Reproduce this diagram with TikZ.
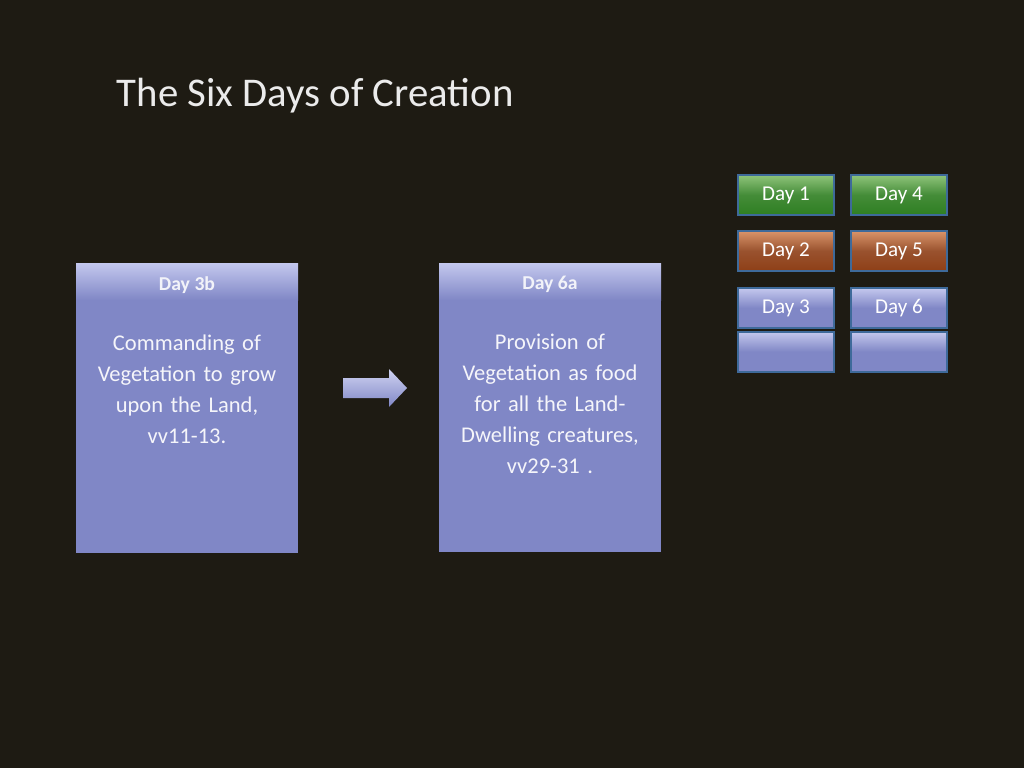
\documentclass[tikz,border=0pt]{standalone}
\usepackage{fontspec}
\setmainfont{Carlito}
\usetikzlibrary{positioning}
\definecolor{bgdark}{HTML}{1E1B13}
\definecolor{panel}{HTML}{8087C6}
\definecolor{panellight}{HTML}{C4C8EE}
\definecolor{dgreen}{HTML}{2F7F22}
\definecolor{lgreen}{HTML}{8FC47A}
\definecolor{dbrown}{HTML}{8E3F17}
\definecolor{lbrown}{HTML}{D9946A}
\definecolor{edgeblue}{HTML}{3E6A9A}
\tikzset{
  daybtn/.style={draw=edgeblue,line width=1.2pt,minimum width=2.4cm,minimum height=1cm,
    text=white,font=\fontsize{15}{18}\selectfont,inner sep=0pt},
  greenbtn/.style={daybtn,top color=lgreen,bottom color=dgreen,middle color=dgreen!90},
  brownbtn/.style={daybtn,top color=lbrown,bottom color=dbrown,middle color=dbrown!90},
  bluebtn/.style={daybtn,top color=panellight,bottom color=panel,middle color=panel},
  bodytext/.style={text=white!92!panel,font=\fontsize{16}{22}\selectfont,align=center,text width=5.2cm}
}
\begin{document}
\begin{tikzpicture}[x=0.025cm,y=-0.025cm]
  % Background
  \fill[bgdark] (0,0) rectangle (1024,768);
  \useasboundingbox (0,0) rectangle (1024,768);

  % Title
  \node[anchor=west,text=white!92!black,font=\fontsize{29}{34}\selectfont] (title) at (112,96) {The Six Days of Creation};

  % Panels
  \fill[panel] (76,263) rectangle (298,553);
  \shade[top color=panellight,bottom color=panel] (76,263) rectangle (298,300);
  \node[text=white!90!panel,font=\bfseries\fontsize{14}{16}\selectfont] (hleft) at (187,285) {Day 3b};
  \node[bodytext,anchor=north] (bleft) at (187,330) {Commanding of\\Vegetation to grow\\upon the Land,\\vv11-13.};

  \fill[panel] (439,263) rectangle (661,552);
  \shade[top color=panellight,bottom color=panel] (439,263) rectangle (661,300);
  \node[text=white!90!panel,font=\bfseries\fontsize{14}{16}\selectfont] (hright) at (550,284) {Day 6a};
  \node[bodytext,anchor=north] (bright) at (550,329) {Provision of\\Vegetation as food\\for all the Land-\\Dwelling creatures,\\vv29-31 .};

  % Arrow
  \shade[top color=panellight!80!white,bottom color=panel] (343,378) -- (389,378) -- (389,369) -- (407,388)
    -- (389,407) -- (389,398) -- (343,398) -- cycle;

  % Day buttons
  \node[greenbtn] (d1) at (786,195) {Day 1};
  \node[greenbtn] (d4) at (899,195) {Day 4};
  \node[brownbtn] (d2) at (786,251) {Day 2};
  \node[brownbtn] (d5) at (899,251) {Day 5};
  \node[bluebtn] (d3) at (786,308) {Day 3};
  \node[bluebtn] (d6) at (899,308) {Day 6};
  \node[bluebtn,below=0.05cm of d3] (d3b) {};
  \node[bluebtn,below=0.05cm of d6] (d6b) {};
\end{tikzpicture}
\end{document}
